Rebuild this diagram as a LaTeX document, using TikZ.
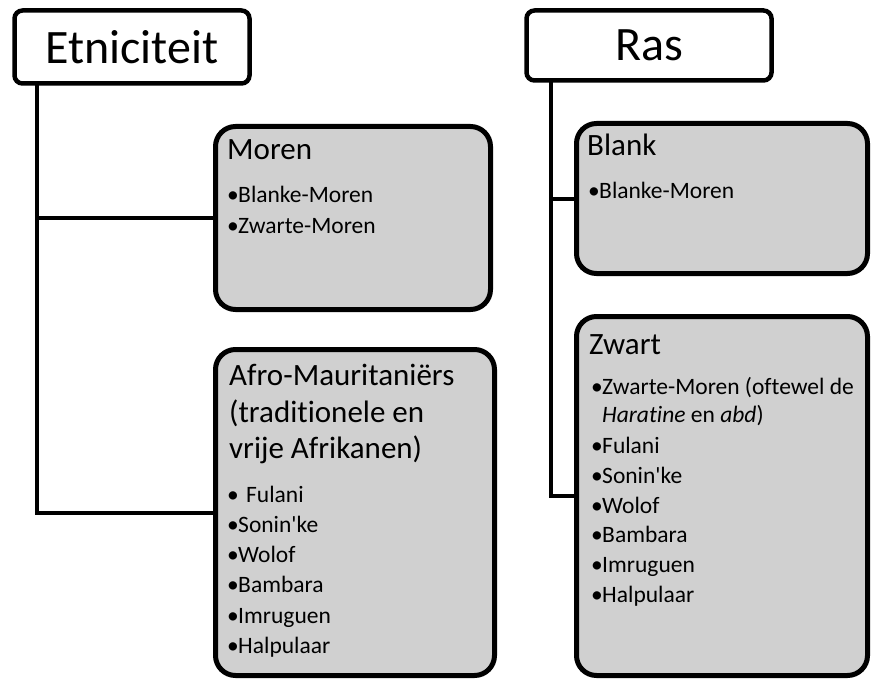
\documentclass[tikz,border=0pt]{standalone}
\usepackage{fontspec}
\setmainfont{Carlito}[Ligatures={NoCommon}]
\definecolor{boxgray}{RGB}{208,208,208}
\tikzset{
  titlebox/.style={draw=black, line width=4.5pt, fill=white, rounded corners=8pt,
    inner sep=0pt, outer sep=0pt, font=\fontsize{48}{58}\selectfont},
  graybox/.style={draw=black, line width=5pt, fill=boxgray, rounded corners=20pt,
    inner sep=0pt, outer sep=0pt},
  conn/.style={draw=black, line width=4pt},
  head/.style={anchor=base west, inner sep=0pt, font=\fontsize{31}{37}\selectfont},
  item/.style={anchor=base west, inner sep=0pt, font=\fontsize{23.5}{30}\selectfont},
}
\newcommand\bul{\makebox[11pt][l]{•}}
\begin{document}
\begin{tikzpicture}[x=1pt,y=-1pt]
\useasboundingbox (0,0) rectangle (872,679);

% header boxes
\node[titlebox, minimum width=235pt, minimum height=73pt] (etn) at (132,47) {Etniciteit};
\node[titlebox, minimum width=245pt, minimum height=70pt] (ras) at (649,45.5) {Ras};

% gray boxes
\node[graybox, minimum width=275pt, minimum height=183pt] (moren) at (353,218) {};
\node[graybox, minimum width=279pt, minimum height=326pt] (afro) at (355,512.5) {};
\node[graybox, minimum width=291pt, minimum height=150pt] (blank) at (722,198.5) {};
\node[graybox, minimum width=291pt, minimum height=359pt] (zwart) at (722,496) {};

% connectors
\draw[conn] ([xshift=22.5pt]etn.south west) |- (moren.west);
\draw[conn] ([xshift=22.5pt]etn.south west) |- (afro.west);
\draw[conn] ([xshift=24.5pt]ras.south west) |- (blank.west);
\draw[conn] ([xshift=24.5pt]ras.south west) |- (zwart.west);

% Moren text
\node[head] (m0) at (227,160) {Moren};
\node[item] (m1) at (227,203) {\bul Blanke-Moren};
\node[item] (m2) at (227,233) {\bul Zwarte-Moren};

% Afro text
\node[head] (a0) at (229,385) {Afro-Mauritaniërs};
\node[head] (a1) at (229,422) {(traditionele en};
\node[head] (a2) at (229,458) {vrije Afrikanen)};
\node[item] (a3) at (227,502) {\bul\hspace{8pt}Fulani};
\node[item] (a4) at (227,532) {\bul Sonin\textquotesingle ke};
\node[item] (a5) at (227,562) {\bul Wolof};
\node[item] (a6) at (227,592) {\bul Bambara};
\node[item] (a7) at (227,623) {\bul Imruguen};
\node[item] (a8) at (227,653) {\bul Halpulaar};

% Blank text
\node[head] (b0) at (587,156) {Blank};
\node[item] (b1) at (588,199) {\bul Blanke-Moren};

% Zwart text
\node[head] (z0) at (589,354) {Zwart};
\node[item] (z1) at (591,394) {\bul Zwarte-Moren (oftewel de};
\node[item] (z2) at (602,422) {\textit{Haratine} en \textit{abd})};
\node[item] (z3) at (591,453) {\bul Fulani};
\node[item] (z4) at (591,483) {\bul Sonin\textquotesingle ke};
\node[item] (z5) at (591,513) {\bul Wolof};
\node[item] (z6) at (591,542) {\bul Bambara};
\node[item] (z7) at (591,572) {\bul Imruguen};
\node[item] (z8) at (591,602) {\bul Halpulaar};
\end{tikzpicture}
\end{document}
